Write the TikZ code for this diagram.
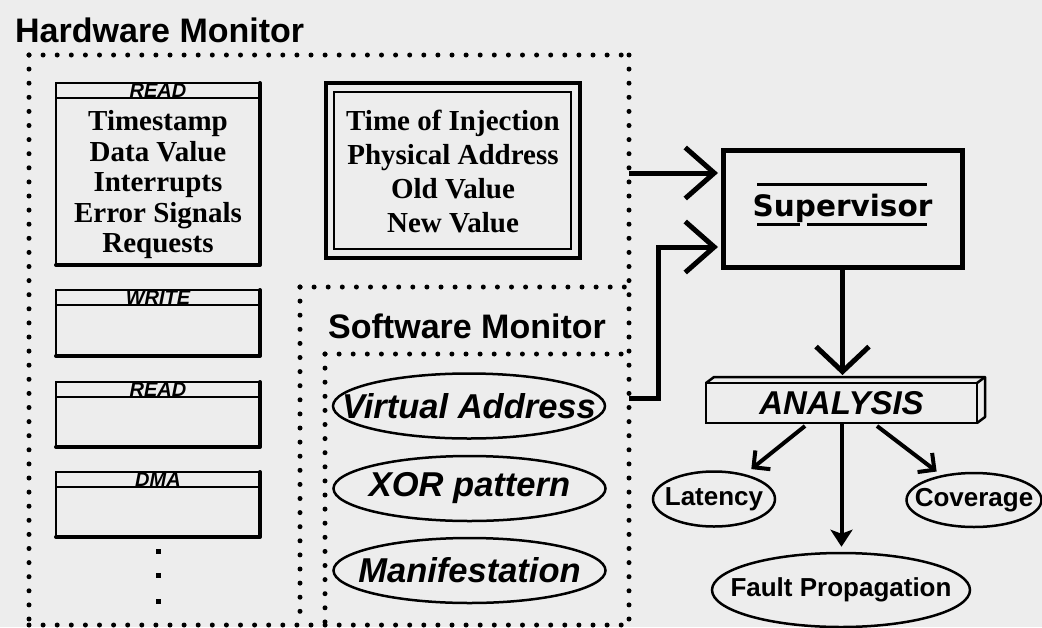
\documentclass[tikz,border=0pt]{standalone}
\usepackage{fontspec}
\setmainfont{Liberation Serif}
\setsansfont{Liberation Sans}
\newfontfamily\supfont{DejaVu Sans}
\usetikzlibrary{arrows.meta,shapes.geometric,calc}
\definecolor{paper}{RGB}{237,237,237}

\begin{document}
\begin{tikzpicture}[x=1pt,y=-1pt,
  dotline/.style={line width=5pt, line cap=round, dash pattern=on 0pt off 14.1pt},
  title/.style={font=\sffamily\bfseries\fontsize{34}{40}\selectfont, anchor=base west, inner sep=0},
  regbox/.style={draw, line width=1.8pt, minimum width=204pt, inner sep=0, outer sep=0},
  hdr/.style={font=\sffamily\bfseries\itshape\fontsize{20}{20}\selectfont, anchor=base, inner sep=0},
  serifblock/.style={align=center, inner sep=0, font=\bfseries\fontsize{29}{30.5}\selectfont},
  swoval/.style={ellipse, draw, line width=2.5pt, minimum width=272pt, minimum height=65pt, inner sep=0,
    label={[inner sep=0, font=\sffamily\bfseries\itshape\fontsize{34.5}{40}\selectfont]center:#1}},
  resoval/.style={ellipse, draw, line width=2.5pt, inner sep=0,
    label={[inner sep=0, font=\sffamily\bfseries\fontsize{26}{30}\selectfont]center:#1}},
  bigbarb/.style={line width=5pt, -{Straight Barb[length=29pt,width=51pt]}},
  smallbarb/.style={line width=4pt, -{Straight Barb[length=12pt,width=24pt]}},
]
\useasboundingbox (0,0) rectangle (1042,627);
\fill[paper] (0,0) rectangle (1042,627);

% monitor regions (dotted outlines)
\draw[dotline] (29,55) -- (629,55);
\draw[dotline] (29,55) -- (29,625);
\draw[dotline] (29,625) -- (629,625);
\draw[dotline] (629,55) -- (629,625);
\draw[dotline] (300,287) -- (629,287);
\draw[dotline] (300,287) -- (300,625);
\draw[dotline] (325,354) -- (629,354);
\draw[dotline] (325,354) -- (325,625);

\node[title] (hwtitle) at (15,42) {Hardware Monitor};
\node[title] (swtitle) at (328,338) {Software Monitor};

% bus transaction records
\node[regbox, minimum height=182pt] (rdA) at (158,174) {};
\node[regbox, minimum height=66pt] (wr) at (158,323) {};
\node[regbox, minimum height=65pt] (rdB) at (158,414.5) {};
\node[regbox, minimum height=65pt] (dma) at (158,504.5) {};
\foreach \n/\lab in {rdA/READ, wr/WRITE, rdB/READ, dma/DMA} {
  \draw[line width=1.8pt] ($(\n.north west)+(0,15)$) -- ($(\n.north east)+(0,15)$);
  \draw[line width=4pt, line cap=round, line join=round] (\n.north east) -- (\n.south east) -- (\n.south west);
  \node[hdr] at ($(\n.north)+(0,14)$) {\lab};
}
\node[serifblock] (rdtext) at (158,185) {Timestamp\\Data Value\\Interrupts\\Error Signals\\Requests};
\foreach \yy in {551,575,601}
  \fill ($(158,\yy)+(-2.5,-2.5)$) rectangle ++(5,5);

% injection record
\node[draw, line width=3.5pt, minimum width=254pt, minimum height=175pt, inner sep=0, outer sep=0] (phys) at (453,170.5) {};
\draw[line width=2pt] ($(phys.north west)+(8,9)$) rectangle ($(phys.south east)+(-9,-9)$);
\node[serifblock, font=\bfseries\fontsize{29}{34}\selectfont] (physt) at (453,172) {Time of Injection\\Physical Address\\Old Value\\New Value};

% software monitor items
\node[swoval={Virtual Address}] (va) at (469,406) {};
\node[swoval={XOR pattern}] (xor) at (469.5,488.5) {};
\node[swoval={Manifestation}] (man) at (469.5,570.5) {};

% supervisor
\node[draw, line width=5pt, minimum width=239pt, minimum height=117pt, inner sep=0, outer sep=0,
  font=\supfont\bfseries\fontsize{29.5}{34}\selectfont] (sup) at (842.5,208.5) {Supervisor};
\draw[line width=3pt] ($(sup.center)+(-85.5,-24.5)$) -- ($(sup.center)+(84.5,-24.5)$);
\draw[line width=3pt] ($(sup.center)+(-85.5,15.5)$) -- ($(sup.center)+(-42.5,15.5)$);
\draw[line width=3pt] ($(sup.center)+(-35.5,15.5)$) -- ($(sup.center)+(84.5,15.5)$);

% analysis bar
\node[draw, line width=2.5pt, minimum width=271pt, minimum height=40pt, inner sep=0, outer sep=0,
  font=\sffamily\bfseries\itshape\fontsize{33}{36}\selectfont] (ana) at (841.5,403) {ANALYSIS};
\draw[line width=2.5pt, line join=round] (ana.north west) -- ++(8,-6) -- ($(ana.north east)+(8,-6)$)
  -- ($(ana.south east)+(8,-6)$) -- (ana.south east);
\draw[line width=2.5pt] (ana.north east) -- ++(8,-6);

% results
\node[resoval=Latency, minimum width=122pt, minimum height=55pt] (lat) at (714,499) {};
\node[resoval=Coverage, minimum width=135pt, minimum height=54pt] (cov) at (974,500) {};
\node[resoval={Fault Propagation}, minimum width=258pt, minimum height=74pt] (fault) at (841,590) {};

% connectors
\coordinate (hwout) at (629,173);
\coordinate (swout) at (629,398);
\draw[bigbarb, shorten >=5pt] (hwout) -- (hwout -| sup.west);
\draw[bigbarb, shorten >=5pt] (swout) -- ++(29,0) |- ($(sup.west)+(0,38.5)$);
\draw[line width=5pt, -{Straight Barb[length=25pt,width=53pt]}] (sup.south) -- ($(sup.south |- ana.north)+(0,-8)$);
\draw[smallbarb, shorten >=8pt] ($(ana.south)+(-36.5,3)$) -- (lat);
\draw[smallbarb, shorten >=6pt] ($(ana.south)+(35.5,3)$) -- (cov);
\draw[line width=4pt, -{Stealth[length=17pt,width=22pt,inset=4pt]}] (ana.south) -- ($(ana.south |- fault.north)+(0,-5)$);
\end{tikzpicture}
\end{document}
